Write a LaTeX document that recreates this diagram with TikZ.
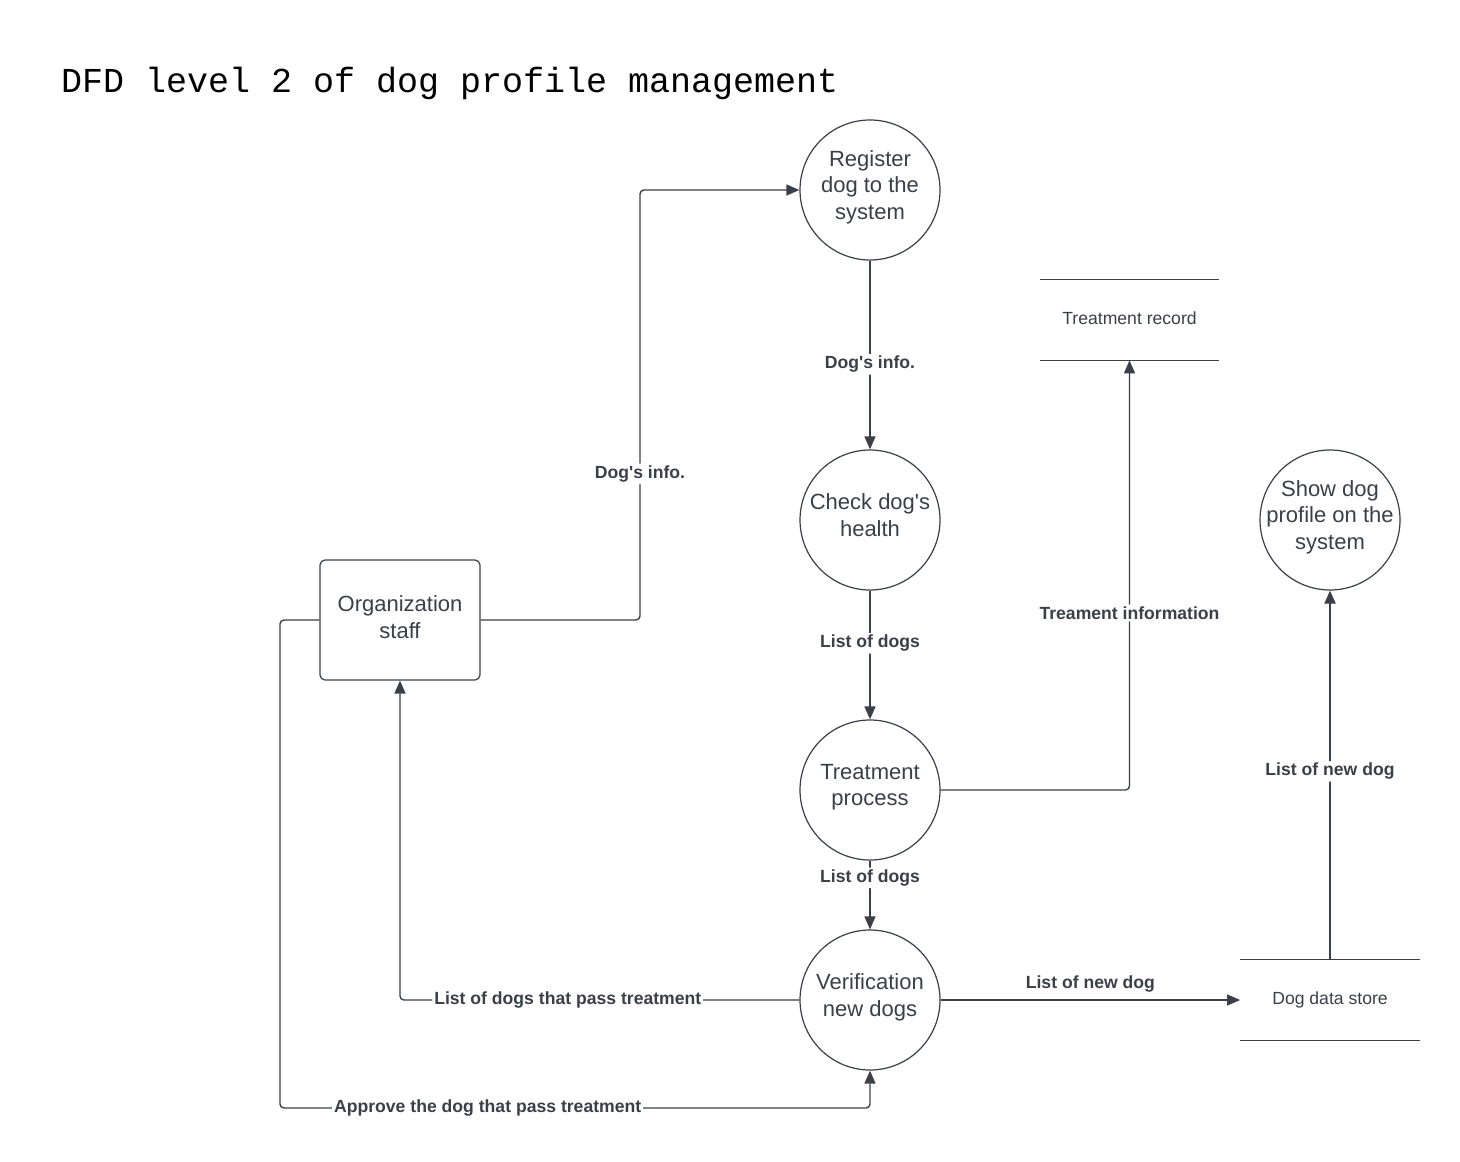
\documentclass[tikz,border=0pt]{standalone}
\usepackage{fontspec}
\setmainfont{Liberation Sans}
\setmonofont{Liberation Mono}
\usetikzlibrary{arrows.meta}
\definecolor{ink}{RGB}{58,63,72}
\newcommand{\apos}{\textquotesingle}
\begin{document}
\begin{tikzpicture}[x=0.5pt,y=-0.5pt,
  proc/.style={circle, draw=ink, line width=0.6pt, minimum size=70pt, inner sep=-5pt,
    text depth=5pt, align=center, text=ink, font=\fontsize{11}{13.2}\selectfont},
  ent/.style={rectangle, rounded corners=2.5pt, draw=ink, line width=0.6pt,
    minimum width=80pt, minimum height=60pt, text depth=3pt, align=center, text=ink,
    font=\fontsize{11}{13.2}\selectfont},
  store/.style={minimum width=89.5pt, minimum height=40pt, inner sep=0pt, text depth=1.5pt,
    text=ink, font=\fontsize{8.8}{10}\selectfont},
  flow/.style={draw=ink, line width=0.7pt, rounded corners=2pt,
    -{Triangle[length=6.5pt,width=5.5pt]}},
  lab/.style={fill=white, inner sep=1pt, text=ink, font=\bfseries\fontsize{8.8}{10}\selectfont}]
\useasboundingbox (0,0) rectangle (1460,1161);
\node[anchor=base west, font=\ttfamily\fontsize{17.5}{20}\selectfont] (title) at (54,92)
  {DFD level 2 of dog profile management};

% processes
\node[proc] (reg) at (870,190) {Register\\dog to the\\system};
\node[proc] (chk) at (870,520) {Check dog\apos s\\health};
\node[proc] (trt) at (870,790) {Treatment\\process};
\node[proc] (ver) at (870,1000) {Verification\\new dogs};
\node[proc] (show) at (1330,520) {Show dog\\profile on the\\system};
\node[ent] (staff) at (400,620) {Organization\\staff};

% data stores
\node[store] (rec) at (1129.5,320) {Treatment record};
\draw[ink, line width=0.6pt] (rec.north west)--(rec.north east) (rec.south west)--(rec.south east);
\node[store] (dds) at (1330,1000) {Dog data store};
\draw[ink, line width=0.6pt] (dds.north west)--(dds.north east) (dds.south west)--(dds.south east);

\coordinate (up) at (640,620);
\coordinate (low) at (280,1108);

% flows
\draw[flow] (staff.east) -- (up) |- node[lab, pos=0.17] (f1) {Dog\apos s info.} (reg.west);
\draw[flow] (reg) -- node[lab, pos=0.55] (f2) {Dog\apos s info.} (chk);
\draw[flow] (chk) -- node[lab, pos=0.41] (f3) {List of dogs} (trt);
\draw[flow] (trt.east) -| node[lab, pos=0.706] (f4) {Treament information} (rec.south);
\draw[flow] (trt) -- node[lab, pos=0.25] (f5) {List of dogs} (ver);
\draw[flow] (ver.east) -- node[above, text=ink, font=\bfseries\fontsize{8.8}{10}\selectfont, pos=0.5] (f6) {List of new dog} (dds.west);
\draw[flow, line width=1pt] (dds.north) -- node[lab, pos=0.51] (f7) {List of new dog} (show.south);
\draw[flow] (ver.west) -| node[lab, pos=0.29] (f8) {List of dogs that pass treatment} (staff.south);
\draw[flow] (staff.west) -| (low) -| node[lab, pos=0.176] (f9) {Approve the dog that pass treatment} (ver.south);
\end{tikzpicture}
\end{document}
